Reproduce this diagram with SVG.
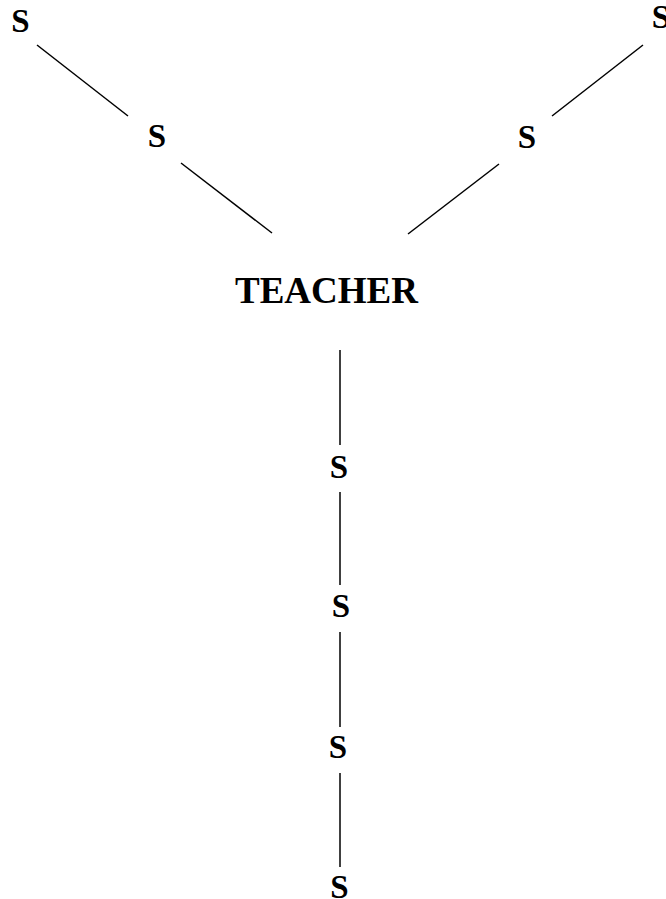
<svg xmlns="http://www.w3.org/2000/svg" width="666" height="899" viewBox="0 0 666 899">
<style>
.s{font-family:"Liberation Serif","Times New Roman",serif;font-weight:bold;font-size:33px;text-anchor:middle;fill:#000}
.t{font-family:"Liberation Serif","Times New Roman",serif;font-weight:bold;font-size:37px;text-anchor:middle;fill:#000}
#edges line{stroke:#000;stroke-width:1.5}
</style>
<rect width="666" height="899" fill="#fff"/>
<g id="edges">
<line x1="37" y1="45" x2="128" y2="116"/>
<line x1="181" y1="163" x2="272" y2="233"/>
<line x1="643" y1="45" x2="552" y2="116"/>
<line x1="499" y1="164" x2="408" y2="234"/>
<line x1="340" y1="350" x2="340" y2="445"/>
<line x1="340" y1="492" x2="340" y2="585"/>
<line x1="340" y1="632" x2="340" y2="727"/>
<line x1="340" y1="773" x2="340" y2="867"/>
</g>
<g id="teacher"><text class="t" x="326.5" y="303">TEACHER</text></g>
<g id="s_left_top"><text class="s" x="20.5" y="32">S</text></g>
<g id="s_left_mid"><text class="s" x="157" y="147">S</text></g>
<g id="s_right_top"><text class="s" x="661" y="28">S</text></g>
<g id="s_right_mid"><text class="s" x="527" y="148">S</text></g>
<g id="s_down1"><text class="s" x="339" y="478">S</text></g>
<g id="s_down2"><text class="s" x="341" y="617">S</text></g>
<g id="s_down3"><text class="s" x="338" y="758">S</text></g>
<g id="s_down4"><text class="s" x="339.5" y="898">S</text></g>
</svg>
